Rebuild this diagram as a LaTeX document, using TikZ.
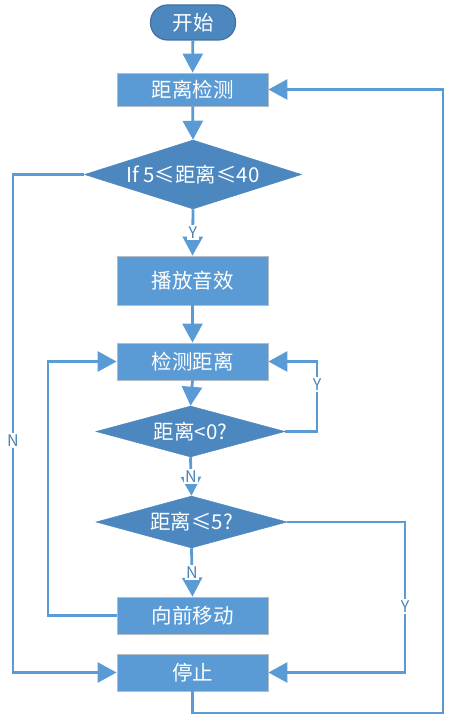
\documentclass[tikz,border=0pt]{standalone}
\usepackage{fontspec}
\setmainfont{Noto Sans CJK SC}
\usetikzlibrary{shapes.geometric,arrows.meta}
\definecolor{boxblue}{HTML}{5B9BD5}
\definecolor{diablue}{HTML}{4D87BF}
\definecolor{pilledge}{HTML}{41719C}
\definecolor{edgegray}{HTML}{B4BCC4}
\definecolor{lineblue}{HTML}{5B9BD5}
\begin{document}
\begin{tikzpicture}[x=1pt,y=-1pt,
  procbox/.style={draw=edgegray,line width=0.8pt,fill=boxblue,minimum width=151pt,
    minimum height=37pt,text=white,font=\fontsize{20.5}{24}\selectfont,inner sep=0pt},
  decision/.style={diamond,draw=diablue,line width=0.5pt,fill=diablue,text=white,
    font=\fontsize{20.5}{24}\selectfont,inner sep=0pt},
  conn/.style={draw=lineblue,line width=2.8pt},
  arr/.style={conn,-{Triangle[width=20pt,length=19pt]}},
  lbl/.style={fill=white,text=lineblue!85!black,font=\fontsize{16}{18}\selectfont,inner sep=1.5pt}]
\useasboundingbox (0,0) rectangle (454,722);
\node[draw=pilledge,line width=1.2pt,fill=diablue,rounded corners=17pt,minimum width=85pt,
  minimum height=35pt,text=white,font=\fontsize{20.5}{24}\selectfont,inner sep=0pt] (start) at (193,22.5) {开始};
\node[procbox,minimum height=33pt] (b1) at (192.5,89.5) {距离检测};
\node[decision,minimum width=217pt,minimum height=69pt,aspect=3.1] (d1) at (193,174.5) {If 5≤距离≤40};
\node[procbox,minimum height=49pt] (play) at (192.5,280.5) {播放音效};
\node[procbox] (detect) at (192.5,361.5) {检测距离};
\node[decision,minimum width=189pt,minimum height=51pt,aspect=3.7] (d2) at (190.5,431.5) {距离<0?};
\node[decision,minimum width=191pt,minimum height=52pt,aspect=3.7] (d3) at (191.5,522) {距离≤5?};
\node[procbox] (fwd) at (192.5,615.5) {向前移动};
\node[procbox] (stop) at (192.5,672.5) {停止};
\coordinate (lx) at (13,174.5);
\coordinate (ry2) at (317,431.5);
\coordinate (ry3) at (405,522);
\coordinate (fl) at (48,615.5);
\coordinate (sb) at (192.5,713);
\coordinate (sr) at (443,713);
\draw[arr] (start) -- (b1);
\draw[arr] (b1) -- (d1.north);
\draw[arr] (d1.south) -- node[lbl]{Y} (play.north);
\draw[arr] (play) -- (detect);
\draw[arr] (detect.south) -- (d2.north);
\draw[arr] (d2.south) -- node[lbl]{N} (d3.north);
\draw[arr] (d3.south) -- node[lbl]{N} (fwd.north);
\draw[arr] (d1.west) -- (lx) -- node[lbl,pos=0.534]{N} (lx |- stop.west) -- (stop.west);
\draw[arr] (d2.east) -- (ry2) -- node[lbl,pos=0.667]{Y} (ry2 |- detect.east) -- (detect.east);
\draw[arr] (d3.east) -- (ry3) -- node[lbl,pos=0.56]{Y} (ry3 |- stop.east) -- (stop.east);
\draw[arr] (fwd.west) -- (fl) -- (fl |- detect.west) -- (detect.west);
\draw[arr] (stop.south) -- (sb) -- (sr) -- (sr |- b1.east) -- (b1.east);
\end{tikzpicture}
\end{document}
